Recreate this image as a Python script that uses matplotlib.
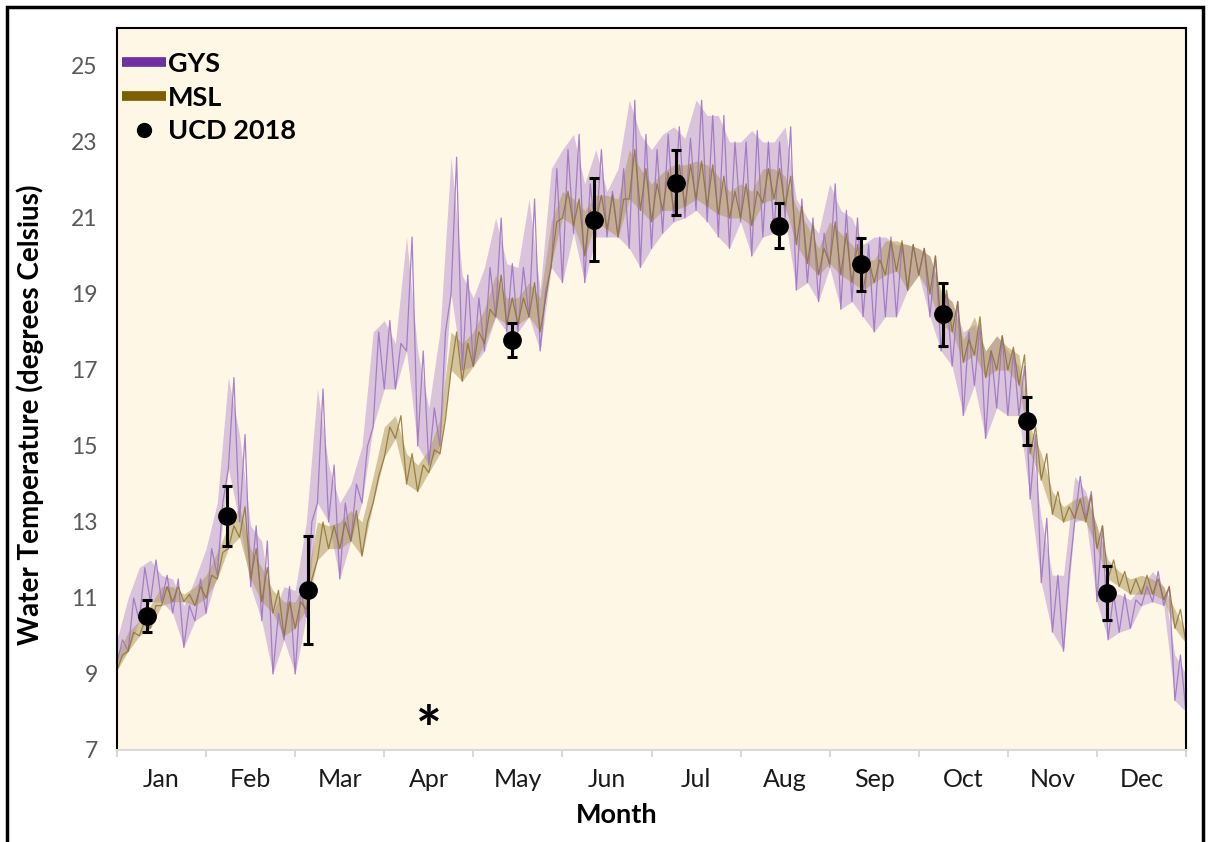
import numpy as np
import matplotlib
matplotlib.use("Agg")
import matplotlib.pyplot as plt
from matplotlib.lines import Line2D
from matplotlib.patches import Rectangle

plt.rcParams['font.family'] = ['Lato', 'DejaVu Sans']

months = ['Jan', 'Feb', 'Mar', 'Apr', 'May', 'Jun', 'Jul', 'Aug', 'Sep', 'Oct', 'Nov', 'Dec']

# logger records, summarised every 1/8 month as the daily low / high of the tidal swing
step = 0.125
gys_low = [9.3, 9.6, 10.4, 10.9, 10.9, 10.6, 9.7, 10.4, 10.6, 11.6, 14.4, 13.0, 11.3, 10.4, 9.0, 9.9,
           9.0, 10.5, 13.5, 13.0, 11.5, 12.5, 13.5, 15.5, 16.5, 16.5, 17.5, 15.0, 14.5, 15.0, 19.0, 17.0,
           17.1, 17.5, 18.4, 18.0, 18.0, 18.4, 17.5, 19.7, 19.3, 20.6, 19.3, 20.5, 20.5, 20.5, 20.2, 19.7,
           20.2, 20.6, 20.9, 21.0, 21.2, 20.9, 20.5, 20.2, 20.9, 20.0, 20.5, 20.6, 21.0, 19.1, 19.3, 18.8,
           19.7, 18.6, 18.8, 18.4, 18.0, 18.4, 18.4, 19.1, 19.5, 18.4, 17.5, 17.1, 15.8, 16.6, 15.2, 16.0,
           15.8, 15.8, 13.6, 11.4, 10.1, 9.6, 13.0, 13.1, 10.9, 9.9, 10.1, 10.2, 10.8, 10.9, 10.8, 8.3, 8.0]
gys_high = [9.9, 11.0, 11.8, 12.0, 11.6, 11.5, 10.8, 11.5, 12.3, 13.5, 16.8, 15.3, 12.9, 12.5, 10.6, 11.3,
            11.2, 13.0, 16.5, 14.5, 13.5, 14.0, 15.0, 18.0, 18.3, 17.7, 20.5, 17.5, 16.0, 18.0, 22.6, 19.5,
            18.9, 19.7, 21.0, 19.8, 19.7, 21.5, 19.1, 22.3, 22.8, 23.2, 21.9, 22.8, 21.7, 22.3, 24.1, 23.2,
            22.8, 23.2, 23.4, 23.1, 24.1, 23.7, 23.7, 23.0, 23.0, 23.3, 23.0, 23.0, 23.4, 21.5, 21.0, 20.6,
            21.9, 21.2, 21.0, 20.3, 20.5, 20.5, 20.3, 20.3, 20.2, 20.0, 19.0, 18.8, 18.0, 18.2, 17.5, 17.9,
            17.5, 17.1, 15.3, 13.1, 11.6, 11.6, 14.2, 13.8, 12.9, 11.1, 11.1, 10.95, 11.3, 11.7, 11.3, 9.5, 9.0]
msl_low = [9.1, 9.6, 10.0, 10.2, 10.8, 10.9, 10.9, 10.8, 11.0, 11.5, 12.3, 12.6, 11.5, 10.9, 10.6, 10.0,
           10.2, 10.7, 12.0, 12.3, 12.3, 12.5, 12.1, 13.5, 14.7, 15.2, 14.0, 13.8, 14.3, 14.8, 17.0, 16.7,
           17.1, 17.7, 18.4, 18.2, 18.2, 18.4, 18.0, 19.8, 21.0, 20.8, 20.0, 20.9, 20.7, 20.5, 21.5, 21.2,
           20.9, 21.2, 21.2, 21.3, 21.5, 21.3, 21.1, 21.0, 21.0, 20.8, 21.4, 21.5, 21.3, 20.3, 19.8, 19.5,
           19.8, 19.5, 19.3, 19.1, 19.3, 19.5, 19.6, 19.1, 19.5, 19.0, 18.2, 18.0, 17.2, 17.4, 16.8, 17.0,
           17.0, 16.6, 14.8, 14.1, 13.2, 13.0, 13.1, 13.0, 12.3, 11.5, 11.3, 11.1, 11.1, 11.1, 10.95, 10.2, 9.8]
msl_high = [9.5, 10.1, 10.4, 10.8, 11.3, 11.3, 11.1, 11.3, 11.6, 12.2, 12.9, 13.4, 12.3, 11.8, 11.2, 10.9,
            10.9, 11.5, 13.0, 12.9, 13.0, 13.3, 13.0, 14.2, 15.5, 15.8, 14.8, 14.5, 14.9, 15.7, 18.0, 17.7,
            18.0, 18.6, 19.5, 18.9, 18.9, 19.3, 18.9, 20.9, 21.7, 21.5, 21.2, 21.6, 21.6, 21.5, 22.8, 22.3,
            21.9, 22.2, 22.4, 22.4, 22.5, 22.4, 22.1, 21.7, 21.9, 21.7, 22.3, 22.3, 22.1, 21.3, 20.8, 20.2,
            20.9, 20.6, 20.3, 19.9, 19.9, 20.4, 20.4, 20.3, 20.2, 20.0, 19.1, 18.8, 17.8, 18.4, 17.5, 17.9,
            17.6, 17.4, 15.5, 14.8, 13.8, 13.4, 13.6, 13.7, 12.9, 12.0, 11.7, 11.5, 11.6, 11.5, 11.3, 10.7, 10.1]

# UCD 2018 grab samples: sampling date (month, day), mean and spread
ucd_month = [1, 2, 3, 5, 6, 7, 8, 9, 10, 11, 12]
ucd_day = [11, 7, 5, 14, 11, 9, 14, 11, 9, 7, 4]
ucd_mean = [10.53, 13.16, 11.21, 17.79, 20.95, 21.93, 20.80, 19.78, 18.47, 15.66, 11.12]
ucd_err = [0.43, 0.79, 1.43, 0.46, 1.09, 0.85, 0.59, 0.70, 0.83, 0.63, 0.71]
month_days = [31, 28, 31, 30, 31, 30, 31, 31, 30, 31, 30, 31]

t = np.arange(len(gys_low)) * step
ucd_x = [m - 1 + (d - 0.5) / month_days[m - 1] for m, d in zip(ucd_month, ucd_day)]


def tidal_trace(low, high):
    # alternate low/high readings so the trace swings like the raw record
    xs = np.column_stack([t, t + step / 2]).ravel()
    ys = np.column_stack([low, high]).ravel()
    return xs, ys


fig = plt.figure(figsize=(12.09, 8.42), dpi=100)
ax = fig.add_axes([117 / 1209, 1 - 750 / 842, 1069 / 1209, 722 / 842])
ax.set_facecolor('#FFF7E5')

gys_c = '#7030A0'
msl_c = '#7F6000'

ax.fill_between(t, gys_low, gys_high, color='#B592D2', alpha=0.5, lw=0)
x, y = tidal_trace(gys_low, gys_high)
ax.plot(x, y, color='#9F74C4', lw=0.9, alpha=0.9)

ax.fill_between(t, msl_low, msl_high, color='#B09A5E', alpha=0.55, lw=0)
x, y = tidal_trace(msl_low, msl_high)
ax.plot(x, y, color='#8E7232', lw=0.9, alpha=0.85)

ax.errorbar(ucd_x, ucd_mean, yerr=ucd_err, fmt='o', color='black', ms=12.5,
            elinewidth=2.2, capsize=3.5, capthick=2.2, zorder=5)

# no April sample
ax.text(3.5, 7.45, '*', ha='center', va='center', fontsize=44, fontweight='bold')

ax.set_xlim(0, 12)
ax.set_ylim(7, 26)
ax.set_yticks(range(7, 26, 2))
ax.tick_params(axis='y', length=0, labelsize=16.5, labelcolor='#595959', pad=14)
ax.set_xticks(range(13))
ax.set_xticklabels([])
ax.set_xticks(np.arange(12) + 0.5, minor=True)
ax.set_xticklabels(months, minor=True)
ax.tick_params(axis='x', which='major', length=5, color='#D9D9D9', width=1.5)
ax.tick_params(axis='x', which='minor', length=0, labelsize=18, labelcolor='#1A1A1A', pad=13)

for side in ['left', 'top', 'right']:
    ax.spines[side].set_color('black')
    ax.spines[side].set_linewidth(1.5)
ax.spines['bottom'].set_color('#D9D9D9')
ax.spines['bottom'].set_linewidth(1.5)

ax.set_ylabel('Water Temperature (degrees Celsius)', fontsize=20, fontweight='bold')
ax.yaxis.set_label_coords(-0.068, 0.464)
ax.set_xlabel('Month', fontsize=19.5, fontweight='bold')
ax.xaxis.set_label_coords(0.4677, -0.074)

handles = [Line2D([], [], color=gys_c, lw=7, solid_capstyle='butt'),
           Line2D([], [], color=msl_c, lw=7, solid_capstyle='butt'),
           Line2D([], [], color='black', marker='o', ls='none', ms=10)]
leg = ax.legend(handles, ['GYS', 'MSL', 'UCD 2018'], loc='upper left', frameon=False,
                bbox_to_anchor=(0.005, 0.967), borderaxespad=0, borderpad=0,
                prop={'weight': 'bold', 'size': 19.5}, handlelength=1.6, handletextpad=0.08,
                labelspacing=0.36)

fig.patches.append(Rectangle((7 / 1209, -0.05), 1196 / 1209, 1.05 - 7 / 842, transform=fig.transFigure,
                             fill=False, edgecolor='black', lw=2.5))

fig.savefig('out.png', dpi=100, facecolor='white')
